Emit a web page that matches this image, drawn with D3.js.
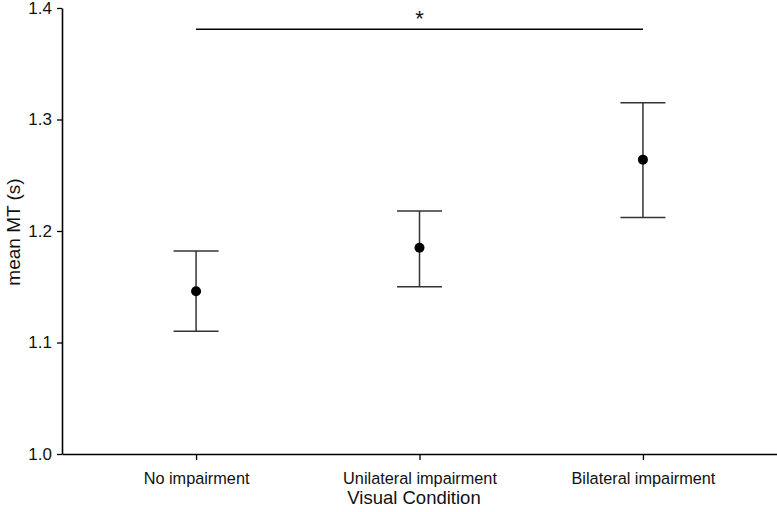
<!DOCTYPE html>
<html><head><meta charset="utf-8">
<script src="https://cdn.jsdelivr.net/npm/d3@7"></script>
<style>body{margin:0;background:#fff}svg{display:block}text{font-family:"Liberation Sans",Arial,sans-serif;fill:#111}</style>
</head><body>
<svg id="c" width="777" height="512"></svg>
<script>
const categories = ["No impairment", "Unilateral impairment", "Bilateral impairment"];
const means = [1.146, 1.185, 1.264];
const upper = [1.182, 1.218, 1.315];
const lower = [1.110, 1.150, 1.212];
const yTicks = [1.0, 1.1, 1.2, 1.3, 1.4];
const sigValue = 1.381;

const svg = d3.select("#c");
const x = d3.scalePoint().domain(categories).range([62, 777]).padding(0.6);
const y = d3.scaleLinear().domain([1.0, 1.4]).range([454, 8]);

const yAxis = svg.append("g").attr("transform", "translate(62,0)")
  .call(d3.axisLeft(y).tickValues(yTicks).tickFormat(d3.format(".1f")).tickSize(5).tickSizeOuter(0));
yAxis.select(".domain").attr("stroke", "#000").attr("stroke-width", 1.6);
yAxis.selectAll(".tick line").attr("stroke", "#000").attr("stroke-width", 1.3);
yAxis.selectAll(".tick text").attr("font-size", 17).attr("x", -10).style("font-family", '"Liberation Sans",Arial,sans-serif').attr("fill", "#111");

const xAxis = svg.append("g").attr("transform", "translate(0,454)")
  .call(d3.axisBottom(x).tickSize(6).tickSizeOuter(0));
xAxis.select(".domain").attr("stroke", "#000").attr("stroke-width", 1.6);
xAxis.selectAll(".tick line").attr("stroke", "#000").attr("stroke-width", 1.3);
xAxis.selectAll(".tick text").attr("font-size", 16.3).attr("y", 18).style("font-family", '"Liberation Sans",Arial,sans-serif').attr("fill", "#111");

svg.append("text").attr("x", 414).attr("y", 504).attr("text-anchor", "middle")
  .attr("font-size", 18.5).text("Visual Condition");
svg.append("text").attr("transform", "translate(20,232) rotate(-90)").attr("text-anchor", "middle")
  .attr("font-size", 19).text("mean MT (s)");

const g = svg.append("g");
categories.forEach((c, i) => {
  const cx = x(c);
  g.append("line").attr("x1", cx).attr("x2", cx).attr("y1", y(upper[i])).attr("y2", y(lower[i]))
    .attr("stroke", "#333").attr("stroke-width", 1.5);
  [upper[i], lower[i]].forEach(v => {
    g.append("line").attr("x1", cx - 22.5).attr("x2", cx + 22.5).attr("y1", y(v)).attr("y2", y(v))
      .attr("stroke", "#333").attr("stroke-width", 1.5);
  });
  g.append("circle").attr("cx", cx).attr("cy", y(means[i])).attr("r", 5).attr("fill", "#000");
});

svg.append("line").attr("x1", x(categories[0])).attr("x2", x(categories[2]))
  .attr("y1", y(sigValue)).attr("y2", y(sigValue)).attr("stroke", "#000").attr("stroke-width", 1.6);
svg.append("text").attr("x", (x(categories[0]) + x(categories[2])) / 2).attr("y", 26)
  .attr("text-anchor", "middle").attr("font-size", 22).text("*");
</script>
</body></html>
